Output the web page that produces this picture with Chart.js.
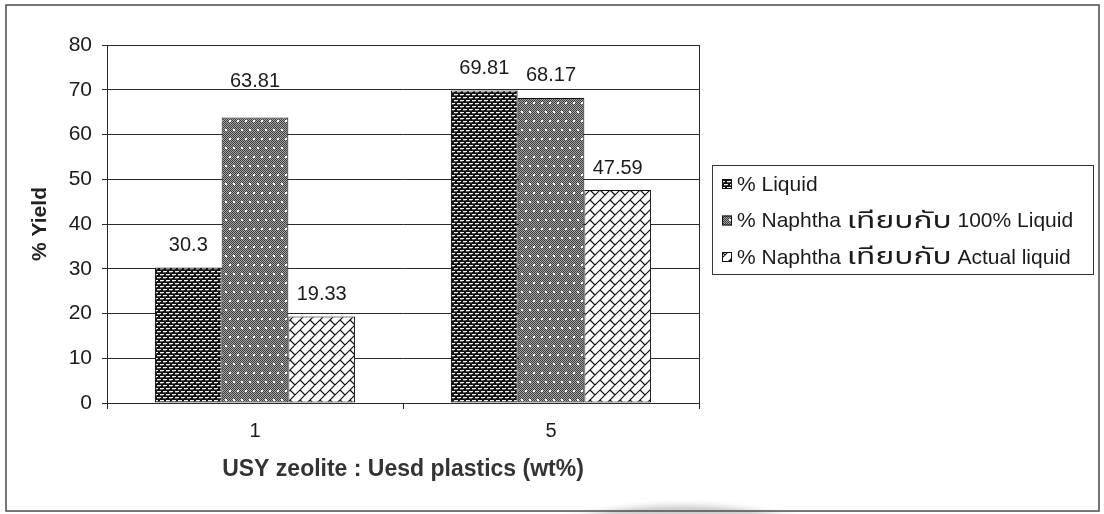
<!DOCTYPE html>
<html>
<head>
<meta charset="utf-8">
<script src="https://cdn.jsdelivr.net/npm/chart.js@4/dist/chart.umd.min.js"></script>
<style>
  html, body { margin: 0; padding: 0; background: #ffffff; }
  #wrap { width: 1104px; height: 514px; position: relative; }
  canvas { display: block; }
</style>
</head>
<body>
<div id="wrap"><canvas id="c" width="1104" height="514"></canvas></div>
<script>
// Catalyst ratio groups and yields (%)
const categories = ['1', '5'];
const liquidYield = [30.3, 69.81];
const naphthaOfTotal = [63.81, 68.17];
const naphthaOfActual = [19.33, 47.59];
const seriesNames = [
  '% Liquid',
  '% Naphtha เทียบกับ 100% Liquid',
  '% Naphtha เทียบกับ Actual liquid'
];
const yMin = 0, yMax = 80, yStep = 10;
const xTitle = 'USY zeolite : Uesd plastics (wt%)';
const yTitle = '% Yield';

const FONT = '"Liberation Sans", Arial, "Noto Sans Thai", "DejaVu Sans", sans-serif';
const INK = '#1b1b1b';

// ---------- fill patterns ----------
function makeTile(w, h, draw) {
  const c = document.createElement('canvas');
  c.width = w; c.height = h;
  const g = c.getContext('2d');
  draw(g, w, h);
  return c;
}
const ctxMain = document.getElementById('c').getContext('2d');

// dark weave: black ground with staggered white dashes
const weaveTile = makeTile(6, 6, (g, w, h) => {
  g.fillStyle = '#121212'; g.fillRect(0, 0, w, h);
  g.fillStyle = '#f0f0f0';
  g.fillRect(1, 1, 4, 1);
  g.fillRect(4, 4, 2, 1); g.fillRect(0, 4, 2, 1);
  g.fillStyle = '#5e5e5e';
  g.fillRect(1, 2, 3, 1);
  g.fillRect(4, 5, 2, 1); g.fillRect(0, 5, 1, 1);
});
// fine grey checker with a sparse grid of white dots
const dotTile = makeTile(8, 18, (g, w, h) => {
  for (let y = 0; y < h; y++) for (let x = 0; x < w; x++) {
    g.fillStyle = ((x + y) % 2 === 0) ? '#3c3c3c' : '#a6a6a6';
    g.fillRect(x, y, 1, 1);
  }
  g.fillStyle = '#ffffff';
  g.fillRect(1, 3, 2, 2);
  g.fillRect(5, 12, 2, 2);
});
// diagonal brick on white
const brickTile = makeTile(20, 20, (g, w, h) => {
  const s = 10;
  g.fillStyle = '#ffffff'; g.fillRect(0, 0, w, h);
  g.strokeStyle = '#111'; g.lineWidth = 1.2;
  g.beginPath();
  for (let k = -4; k <= 8; k++) {
    const c = k * s;
    g.moveTo(c + 2 * w, -2 * w); g.lineTo(c - 2 * w, 2 * w);
  }
  for (let k = -4; k <= 8; k++) {
    const off = (((k % 2) + 2) % 2) * s;
    for (let m = -6; m <= 6; m++) {
      const v = off + m * 2 * s;
      const u0 = k * s, u1 = (k + 1) * s;
      g.moveTo((u0 + v) / 2, (u0 - v) / 2);
      g.lineTo((u1 + v) / 2, (u1 - v) / 2);
    }
  }
  g.stroke();
});
const fills = [
  ctxMain.createPattern(weaveTile, 'repeat'),
  ctxMain.createPattern(dotTile, 'repeat'),
  ctxMain.createPattern(brickTile, 'repeat')
];
const seriesValues = [liquidYield, naphthaOfTotal, naphthaOfActual];

// ---------- plugins ----------
const frame = {
  id: 'frame',
  beforeDraw(chart) {
    const g = chart.ctx;
    g.save();
    g.fillStyle = '#ffffff';
    g.fillRect(0, 0, chart.width, chart.height);
    // soft grey shadow along the lower edge
    const grad = g.createRadialGradient(682, 1004, 440, 682, 1004, 506);
    grad.addColorStop(0, 'rgba(150,150,150,0.75)');
    grad.addColorStop(0.85, 'rgba(175,175,175,0.55)');
    grad.addColorStop(1, 'rgba(255,255,255,0)');
    g.fillStyle = grad;
    g.beginPath();
    g.arc(682, 1004, 506, 0, Math.PI * 2);
    g.fill();
    g.restore();
  },
  afterDraw(chart) {
    const g = chart.ctx, a = chart.chartArea;
    g.save();
    g.strokeStyle = '#2a2a2a'; g.lineWidth = 1;
    g.strokeRect(Math.round(a.left) + 0.5, Math.round(a.top) + 0.5,
      Math.round(a.right - a.left), Math.round(a.bottom - a.top));
    g.strokeStyle = '#555'; g.lineWidth = 1.6;
    g.strokeRect(6, 5, 1093, 506);
    g.restore();
  }
};

// value labels; the 63.81 label sits a little higher than the rest
const labelLift = (di, i) => (di === 1 && i === 0) ? 36 : 22;
const valueLabels = {
  id: 'valueLabels',
  afterDatasetsDraw(chart) {
    const g = chart.ctx;
    g.save();
    g.font = '20px ' + FONT;
    g.fillStyle = INK;
    g.textAlign = 'center';
    g.textBaseline = 'middle';
    chart.data.datasets.forEach((ds, di) => {
      chart.getDatasetMeta(di).data.forEach((bar, i) => {
        g.fillText(String(ds.data[i]), bar.x, bar.y - labelLift(di, i));
      });
    });
    g.restore();
  }
};

// legend text: Thai runs are set larger and wider than the Latin runs
function drawMixed(g, text, x, y) {
  const runs = text.split(/([\u0E00-\u0E7F]+)/).filter(r => r.length);
  runs.forEach(run => {
    if (/[\u0E00-\u0E7F]/.test(run)) {
      g.font = '23px ' + FONT;
      const w = g.measureText(run).width;
      const sx = 1.38;
      g.save();
      g.translate(x, y);
      g.scale(sx, 1);
      g.fillText(run, 0, 0);
      g.restore();
      x += w * sx;
    } else {
      g.font = '21px ' + FONT;
      g.fillText(run, x, y);
      x += g.measureText(run).width;
    }
  });
}

const boxLegend = {
  id: 'boxLegend',
  afterDraw(chart) {
    const g = chart.ctx;
    const x0 = 712, y0 = 165, w = 381, h = 109;
    g.save();
    g.fillStyle = '#ffffff';
    g.fillRect(x0, y0, w, h);
    g.strokeStyle = '#333'; g.lineWidth = 1;
    g.strokeRect(x0 + 0.5, y0 + 0.5, w, h);
    g.textBaseline = 'middle';
    chart.data.datasets.forEach((ds, i) => {
      const cy = y0 + 19 + i * 36.5;
      g.fillStyle = ds.backgroundColor;
      g.fillRect(722, cy - 5, 10, 10);
      g.strokeStyle = '#111';
      g.strokeRect(722.5, cy - 4.5, 9, 9);
      g.fillStyle = INK;
      drawMixed(g, ds.label, 737, cy + 1);
    });
    g.restore();
  }
};

// ---------- chart ----------
new Chart(document.getElementById('c'), {
  type: 'bar',
  data: {
    labels: categories,
    datasets: seriesValues.map((vals, i) => ({
      label: seriesNames[i],
      data: vals,
      backgroundColor: fills[i],
      borderColor: '#111',
      borderWidth: 1,
      borderSkipped: false,
      categoryPercentage: 0.676,
      barPercentage: 1.0
    }))
  },
  options: {
    responsive: false,
    animation: false,
    layout: { padding: { left: 0, top: 45, right: 405, bottom: 0 } },
    plugins: { legend: { display: false }, tooltip: { enabled: false } },
    scales: {
      x: {
        afterFit(s) { s.height = 111; },
        grid: { display: true, drawOnChartArea: false, offset: true, color: '#222', tickLength: 6 },
        border: { display: true, color: '#222', width: 1 },
        ticks: { color: INK, font: { family: FONT, size: 20 }, padding: 10 },
        title: {
          display: true, text: xTitle, color: '#333',
          font: { family: FONT, size: 23, weight: 'bold' },
          padding: { top: 0, bottom: 31 }
        }
      },
      y: {
        min: yMin, max: yMax,
        afterFit(s) { s.width = 107; },
        ticks: { stepSize: yStep, color: INK, font: { family: FONT, size: 21 }, padding: 10 },
        grid: { color: '#2a2a2a', lineWidth: 1, tickLength: 5 },
        border: { display: true, color: '#222', width: 1 },
        title: {
          display: true, text: yTitle, color: '#222',
          font: { family: FONT, size: 21, weight: 'bold' },
          padding: { top: 28, bottom: 0 }
        }
      }
    }
  },
  plugins: [frame, valueLabels, boxLegend]
});
</script>
</body>
</html>
